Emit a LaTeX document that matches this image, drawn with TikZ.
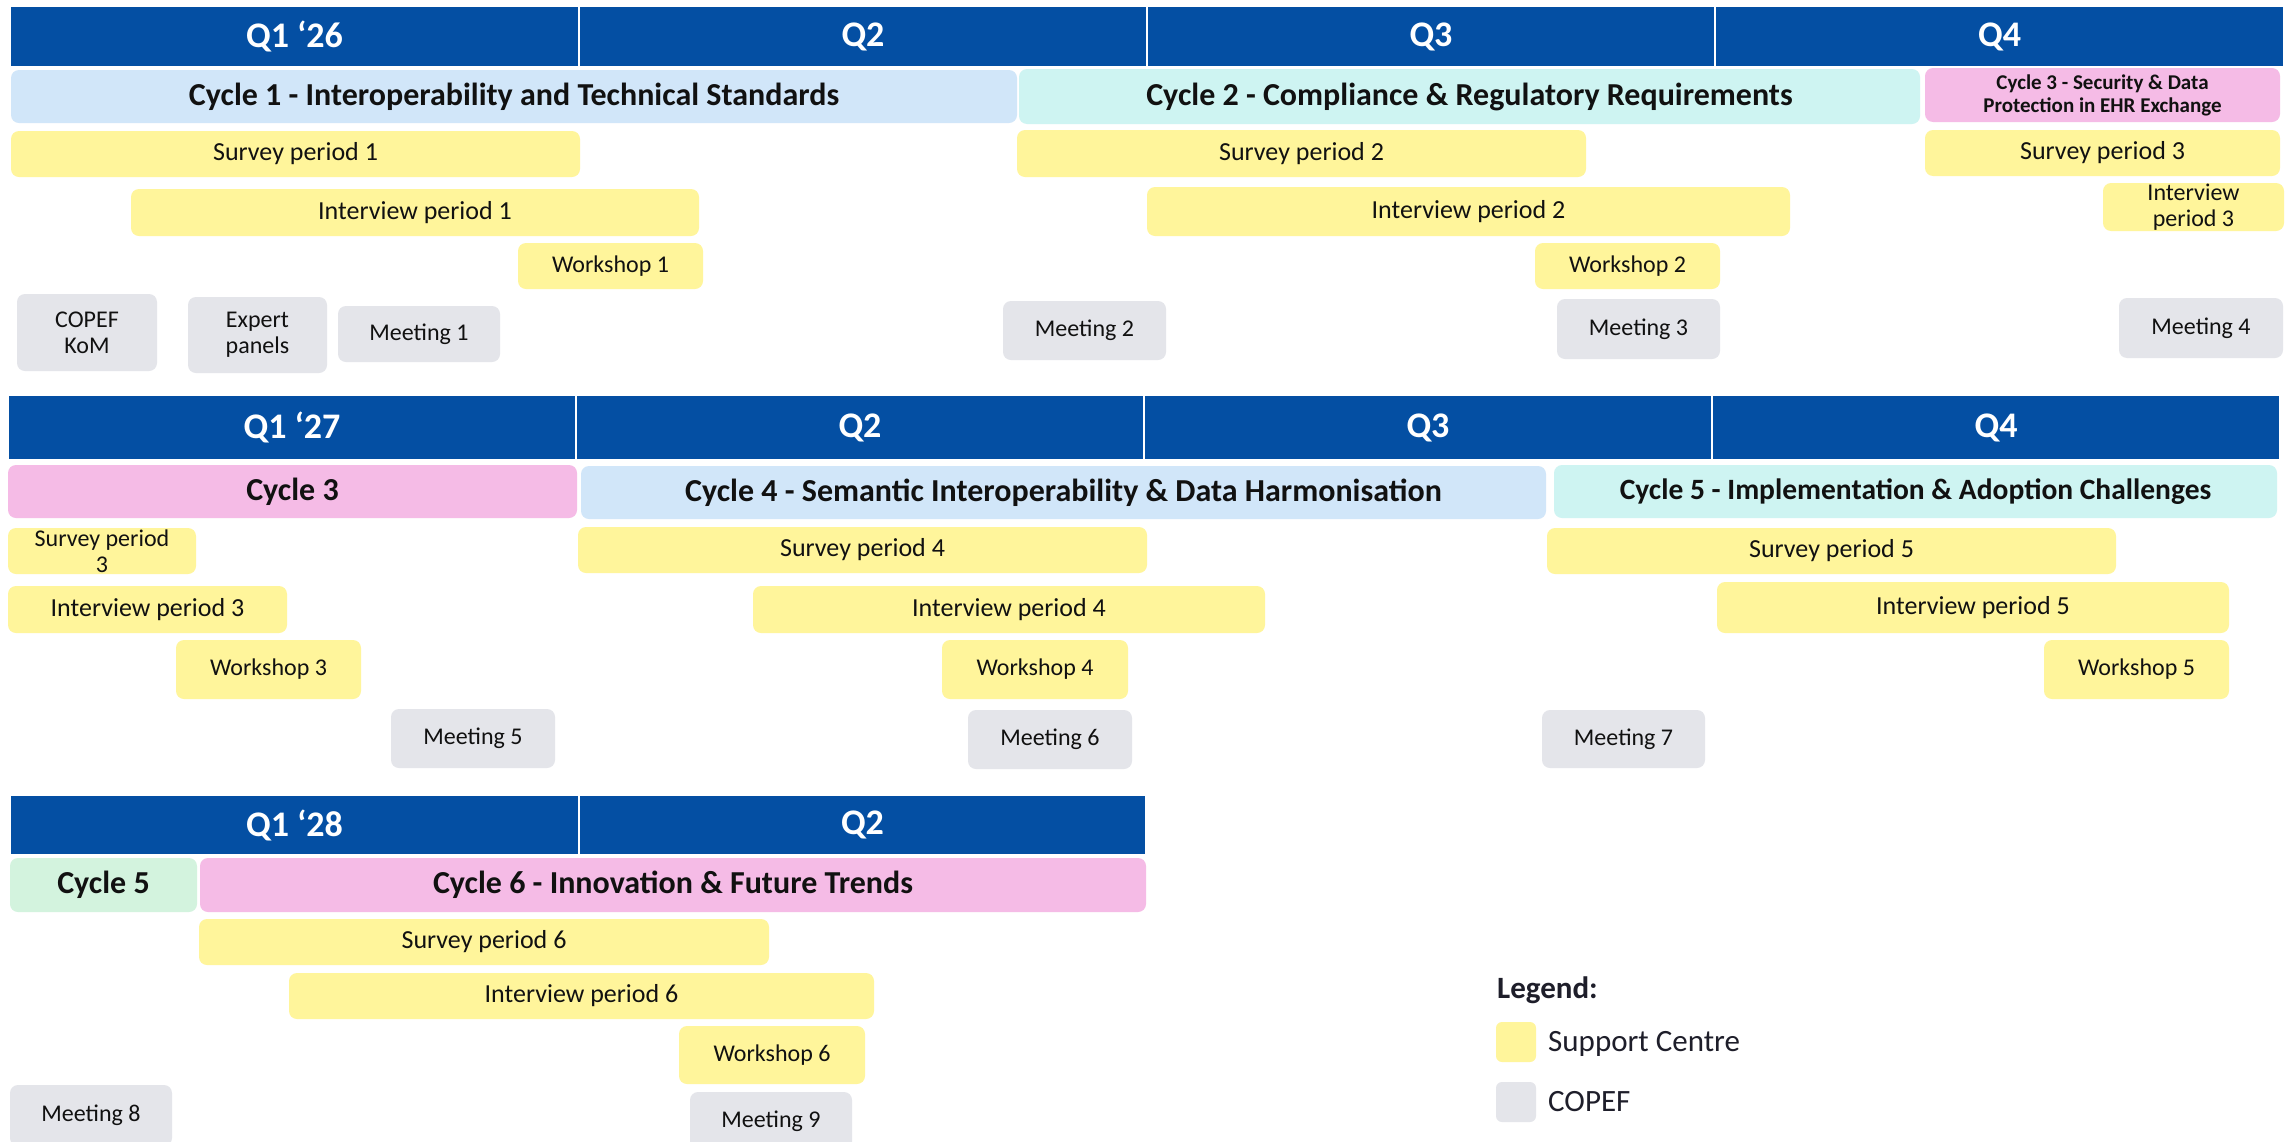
\documentclass[tikz,border=0pt]{standalone}
\usepackage{fontspec}
\setmainfont{Carlito}
\definecolor{hblue}{HTML}{044FA3}
\definecolor{cycblue}{HTML}{D1E6F9}
\definecolor{cyccyan}{HTML}{CEF4F2}
\definecolor{cycpink}{HTML}{F5BBE6}
\definecolor{cycgreen}{HTML}{D3F3DE}
\definecolor{yel}{HTML}{FFF59B}
\definecolor{gry}{HTML}{E4E5EA}
\definecolor{ink}{HTML}{111111}
\definecolor{legink}{HTML}{1E1E2A}
\tikzset{
  hdrbox/.style={fill=hblue,text=white,font=\fontsize{36}{42}\selectfont\bfseries},
  cycbox/.style={rounded corners=8pt,text=ink,font=\fontsize{32}{36}\selectfont\bfseries},
  scbox/.style={fill=yel,rounded corners=8pt,text=ink,font=\fontsize{26}{30}\selectfont},
  wsbox/.style={fill=yel,rounded corners=8pt,text=ink,font=\fontsize{24}{26}\selectfont},
  cpbox/.style={fill=gry,rounded corners=8pt,text=ink,font=\fontsize{24}{26}\selectfont},
  legtext/.style={text=legink,inner sep=0pt,anchor=west,font=\fontsize{31}{36}\selectfont},
}
% name, style, x1, y1, x2, y2, text
\newcommand{\bx}[7]{\node[#2,minimum width={(#5)-(#3)},minimum height={(#6)-(#4)},inner sep=0pt,align=center] (#1) at ({((#3)+(#5))/2},{((#4)+(#6))/2}) {#7};}
\begin{document}
\begin{tikzpicture}[x=1pt,y=-1pt]
\useasboundingbox (0,0) rectangle (2293,1141);
\clip (0,0) rectangle (2293,1141);
\fill[white] (0,0) rectangle (2293,1141);
% ---------- Row 1 ----------
\bx{h1a}{hdrbox}{11}{7}{578}{66}{Q1 ‘26}
\bx{h1b}{hdrbox}{580}{7}{1146}{66}{Q2}
\bx{h1c}{hdrbox}{1148}{7}{1714}{66}{Q3}
\bx{h1d}{hdrbox}{1716}{7}{2283}{66}{Q4}
\bx{c1}{cycbox,fill=cycblue}{11}{70}{1017}{123}{Cycle 1 - Interoperability and Technical Standards}
\bx{c2}{cycbox,fill=cyccyan}{1019}{69}{1920}{124}{Cycle 2 - Compliance \& Regulatory Requirements}
\bx{c3a}{cycbox,fill=cycpink,font=\fontsize{21}{23}\selectfont\bfseries}{1925}{68}{2280}{122}{Cycle 3 - Security \& Data\\Protection in EHR Exchange}
\bx{sp1}{scbox}{11}{131}{580}{177}{Survey period 1}
\bx{ip1}{scbox}{131}{189}{699}{236}{Interview period 1}
\bx{ws1}{wsbox}{518}{243}{703}{289}{Workshop 1}
\bx{kom}{cpbox}{17}{294}{157}{371}{COPEF\\KoM}
\bx{exp}{cpbox}{188}{297}{327}{373}{Expert\\panels}
\bx{m1}{cpbox}{338}{306}{500}{362}{Meeting 1}
\bx{sp2}{scbox}{1017}{130}{1586}{177}{Survey period 2}
\bx{ip2}{scbox}{1147}{187}{1790}{236}{Interview period 2}
\bx{ws2}{wsbox}{1535}{243}{1720}{289}{Workshop 2}
\bx{m2}{cpbox}{1003}{301}{1166}{360}{Meeting 2}
\bx{m3}{cpbox}{1557}{299}{1720}{359}{Meeting 3}
\bx{sp3}{scbox}{1925}{130}{2280}{176}{Survey period 3}
\bx{ip3}{wsbox}{2103}{183}{2284}{231}{Interview\\period 3}
\bx{m4}{cpbox}{2119}{298}{2283}{358}{Meeting 4}
% ---------- Row 2 ----------
\bx{h2a}{hdrbox}{9}{396}{575}{459}{Q1 ‘27}
\bx{h2b}{hdrbox}{577}{396}{1143}{459}{Q2}
\bx{h2c}{hdrbox}{1145}{396}{1711}{459}{Q3}
\bx{h2d}{hdrbox}{1713}{396}{2279}{459}{Q4}
\bx{c3b}{cycbox,fill=cycpink}{8}{465}{577}{518}{Cycle 3}
\bx{c4}{cycbox,fill=cycblue}{581}{466}{1546}{519}{Cycle 4 - Semantic Interoperability \& Data Harmonisation}
\bx{c5a}{cycbox,fill=cyccyan,font=\fontsize{29.5}{34}\selectfont\bfseries}{1554}{465}{2277}{518}{Cycle 5 - Implementation \& Adoption Challenges}
\bx{sp3b}{wsbox,font=\fontsize{24}{26}\selectfont}{8}{528}{196}{574}{Survey period\\3}
\bx{ip3b}{scbox}{8}{586}{287}{633}{Interview period 3}
\bx{ws3}{wsbox}{176}{640}{361}{699}{Workshop 3}
\bx{m5}{cpbox}{391}{709}{555}{768}{Meeting 5}
\bx{sp4}{scbox}{578}{527}{1147}{573}{Survey period 4}
\bx{ip4}{scbox}{753}{586}{1265}{633}{Interview period 4}
\bx{ws4}{wsbox}{942}{640}{1128}{699}{Workshop 4}
\bx{m6}{cpbox}{968}{710}{1132}{769}{Meeting 6}
\bx{sp5}{scbox}{1547}{528}{2116}{574}{Survey period 5}
\bx{ip5}{scbox}{1717}{582}{2229}{633}{Interview period 5}
\bx{ws5}{wsbox}{2044}{640}{2229}{699}{Workshop 5}
\bx{m7}{cpbox}{1542}{710}{1705}{768}{Meeting 7}
% ---------- Row 3 ----------
\bx{h3a}{hdrbox}{11}{796}{578}{854}{Q1 ‘28}
\bx{h3b}{hdrbox}{580}{796}{1145}{854}{Q2}
\bx{c5b}{cycbox,fill=cycgreen}{10}{858}{197}{912}{Cycle 5}
\bx{c6}{cycbox,fill=cycpink}{200}{858}{1146}{912}{Cycle 6 - Innovation \& Future Trends}
\bx{sp6}{scbox}{199}{919}{769}{965}{Survey period 6}
\bx{ip6}{scbox}{289}{973}{874}{1019}{Interview period 6}
\bx{ws6}{wsbox}{679}{1026}{865}{1084}{Workshop 6}
\bx{m8}{cpbox}{10}{1085}{172}{1146}{Meeting 8}
\bx{m9}{cpbox}{690}{1092}{852}{1150}{Meeting 9}
% ---------- Legend ----------
\node[legtext,font=\fontsize{31}{36}\selectfont\bfseries] (legtitle) at (1497,990) {Legend:};
\bx{legy}{fill=yel,rounded corners=6pt}{1496}{1022}{1536}{1062}{}
\bx{legg}{fill=gry,rounded corners=6pt}{1496}{1082}{1536}{1122}{}
\node[legtext] (legyt) at (1548,1044) {Support Centre};
\node[legtext] (leggt) at (1548,1102) {COPEF};
\end{tikzpicture}
\end{document}
